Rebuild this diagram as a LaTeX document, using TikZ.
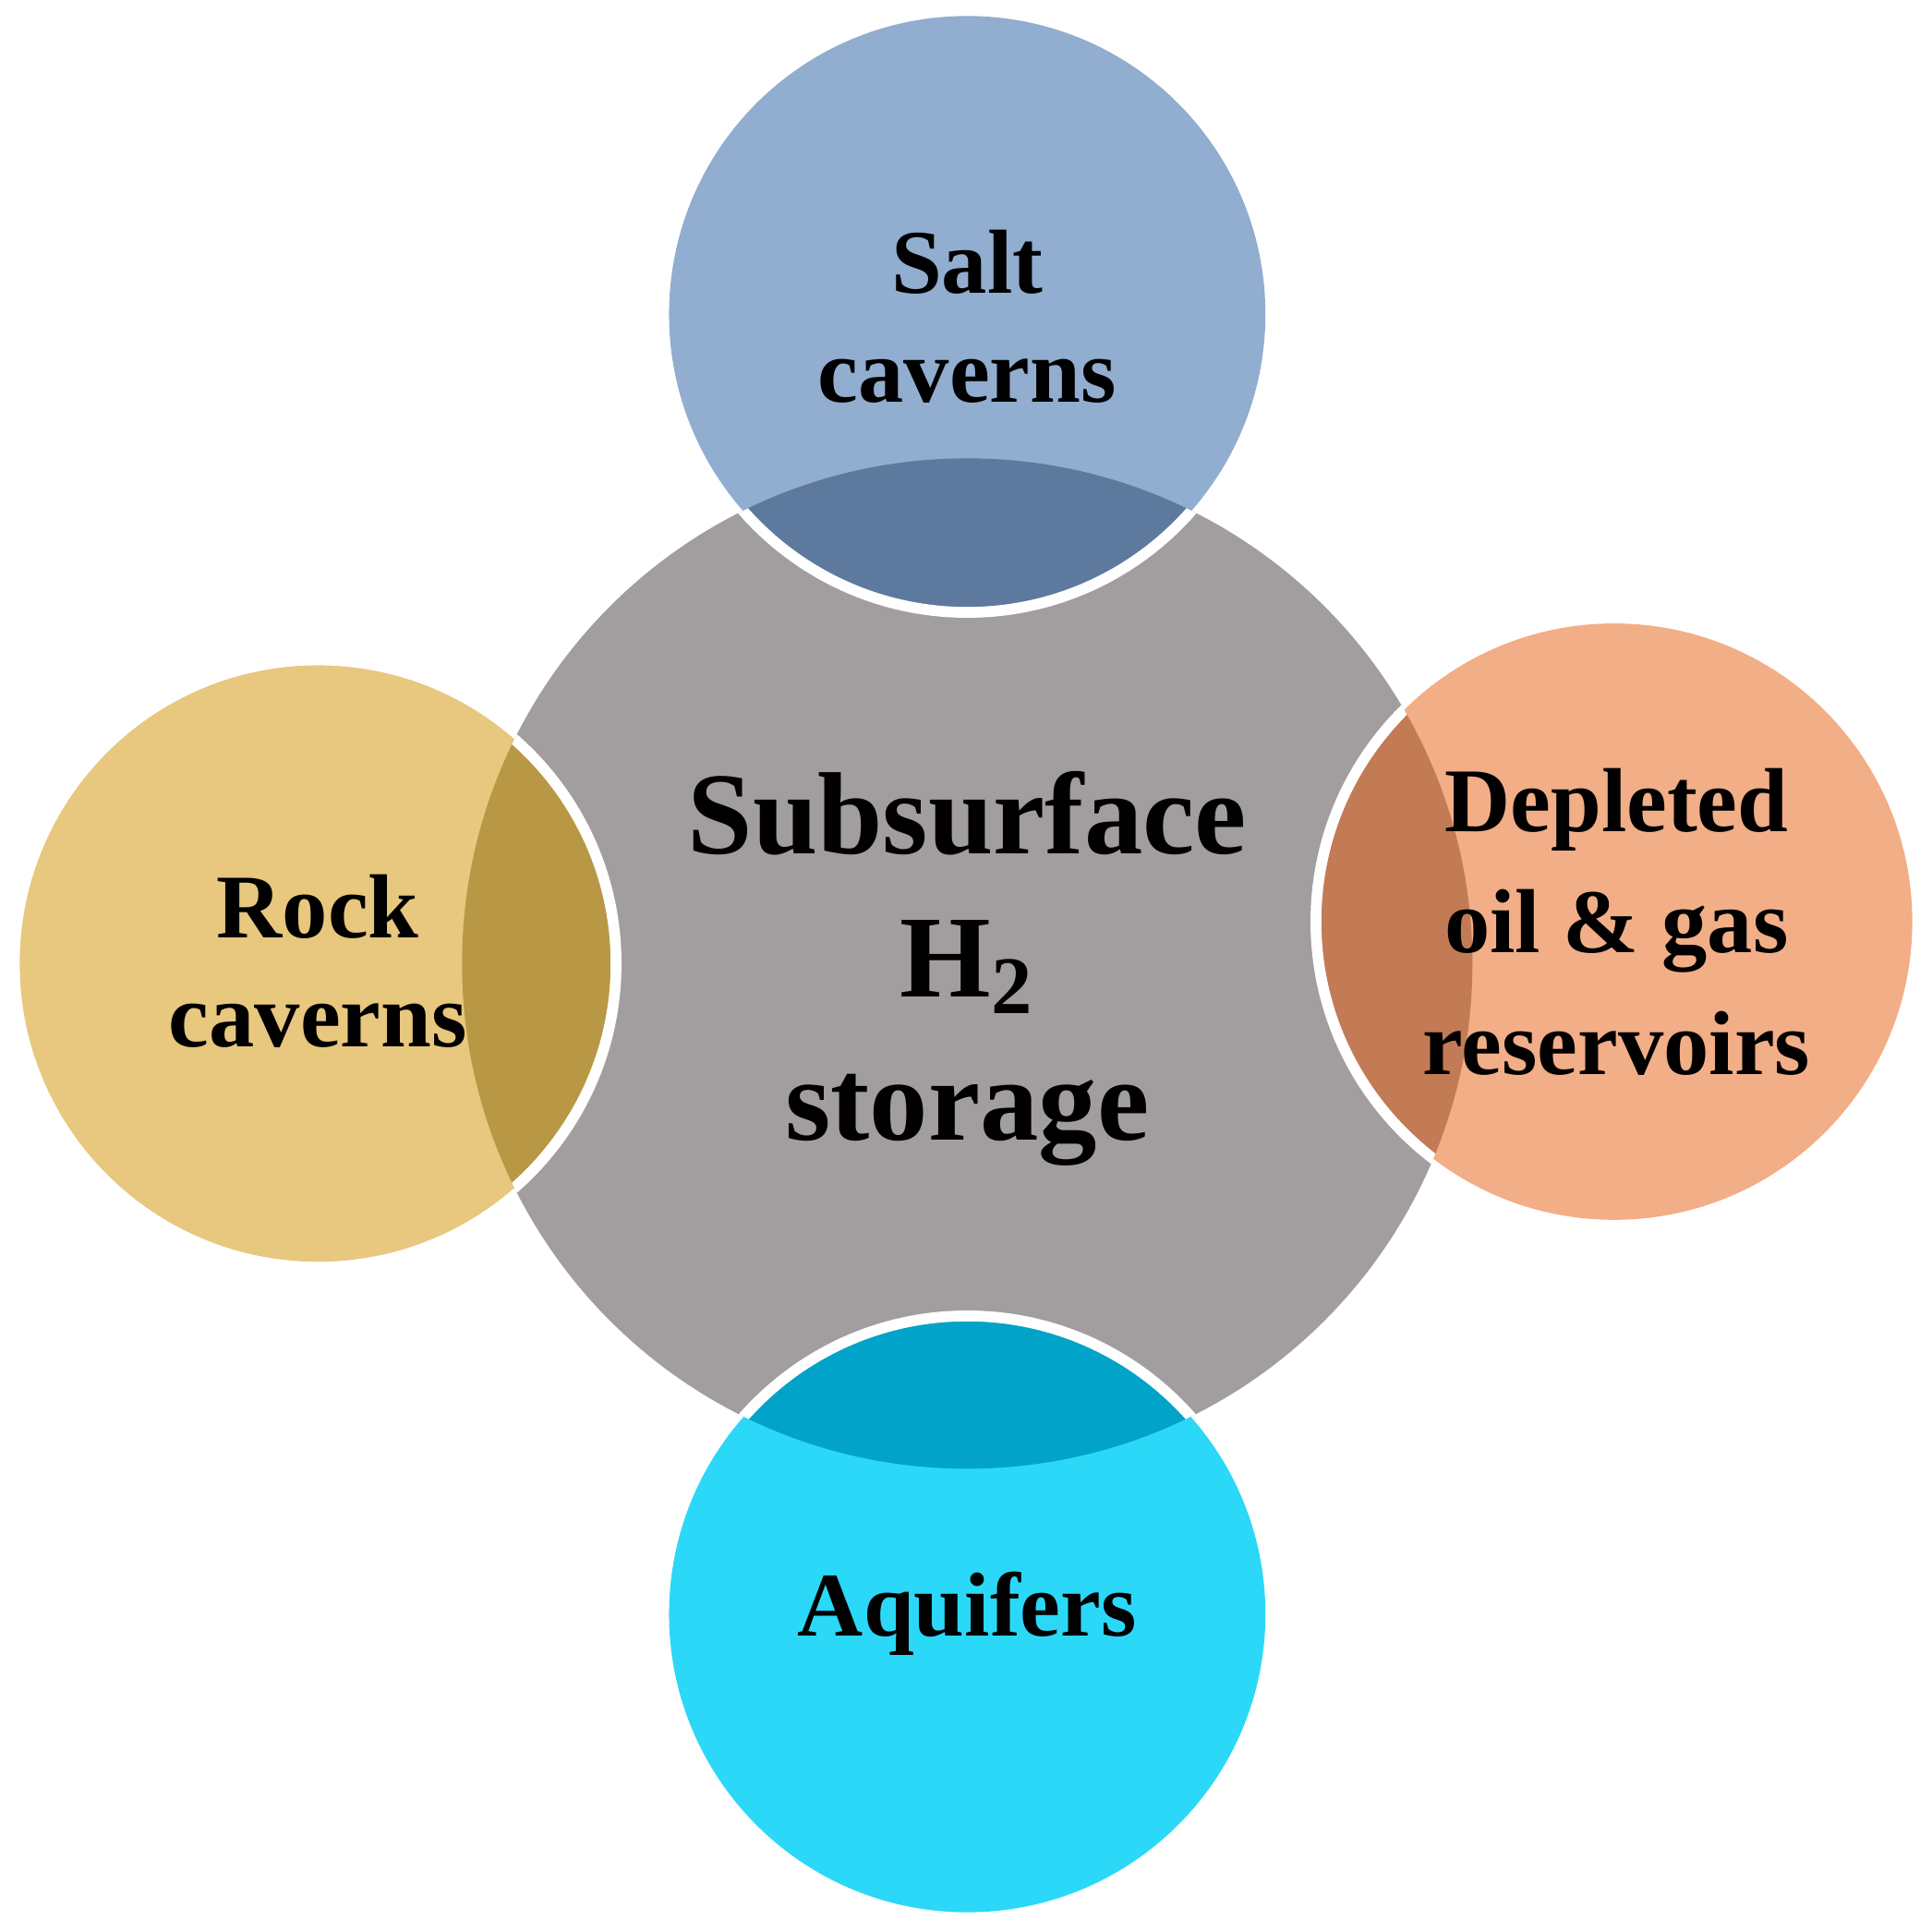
\documentclass[tikz,border=0pt]{standalone}
\usepackage{fontspec}
\setmainfont{Liberation Serif}
\definecolor{cgray}{HTML}{A29E9F}
\definecolor{cblue}{HTML}{91ADCF}\definecolor{oblue}{HTML}{5D7A9E}
\definecolor{cgold}{HTML}{E8C77E}\definecolor{ogold}{HTML}{B89844}
\definecolor{corange}{HTML}{F2AE87}\definecolor{oorange}{HTML}{C27B55}
\definecolor{ccyan}{HTML}{2BD8F7}\definecolor{ocyan}{HTML}{01A4C8}
\tikzset{small/.style={draw=white,line width=2.5pt},
 big/.style={font=\bfseries\fontsize{27}{33}\selectfont,align=center},
 lab/.style={font=\bfseries\fontsize{21}{25}\selectfont,align=center}}
\begin{document}
\begin{tikzpicture}[x=0.01cm,y=-0.01cm]
\useasboundingbox (0,0) rectangle (1568,1558);
\fill[cgray] (785,782) circle (410);
\foreach \p/\c in {{(785,255)}/cblue,{(258,782)}/cgold,{(1310,748)}/corange,{(785,1310)}/ccyan}
  \fill[\c] \p circle (242);
\begin{scope}
\clip (785,782) circle (410);
\foreach \p/\c in {{(785,255)}/oblue,{(258,782)}/ogold,{(1310,748)}/oorange,{(785,1310)}/ocyan}
  \fill[\c] \p circle (242);
\end{scope}
\begin{scope}
\clip (785,782) circle (410);
\foreach \p in {{(785,255)},{(258,782)},{(1310,748)},{(785,1310)}}
  \draw[small] \p circle (242);
\end{scope}
\node[big] (c) at (785,786) {Subsurface\\H\textsubscript{2}\\storage};
\node[lab] (t) at (785,257) {Salt\\caverns};
\node[lab] (l) at (258,780) {Rock\\caverns};
\node[lab,font=\bfseries\fontsize{21}{28}\selectfont] (r) at (1312,748) {Depleted\\oil \& gas\\reservoirs};
\node[lab] (b) at (785,1310) {Aquifers};
\end{tikzpicture}
\end{document}
